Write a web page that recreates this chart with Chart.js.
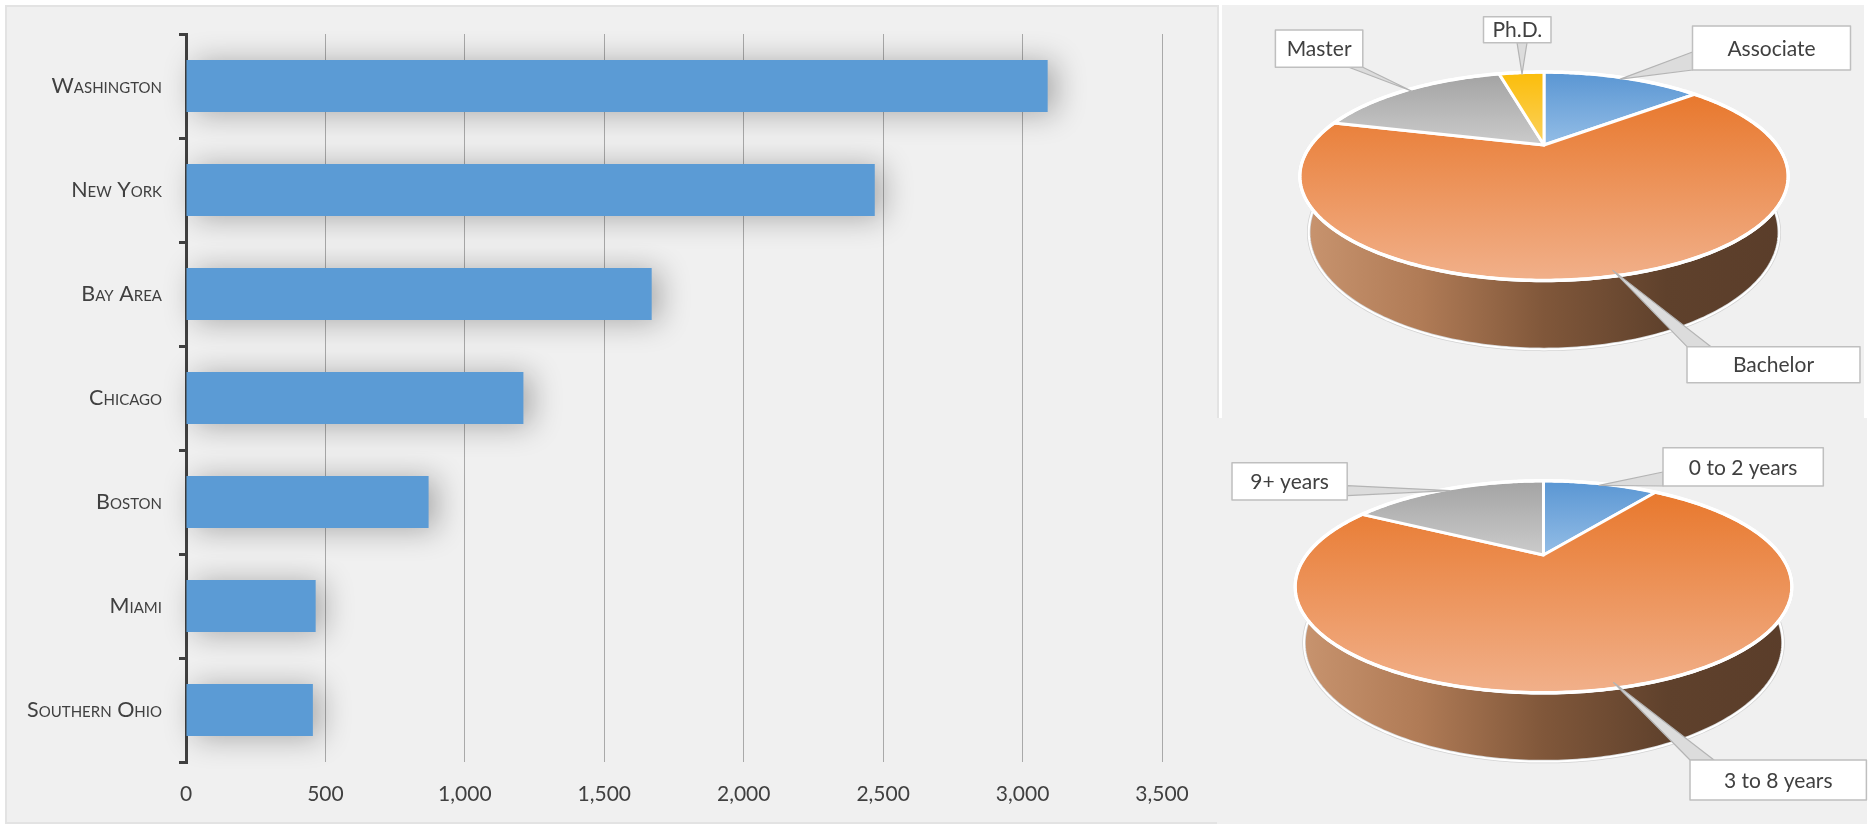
<!DOCTYPE html>
<html>
<head>
<meta charset="utf-8">
<title>Locations, education and experience</title>
<script src="https://cdn.jsdelivr.net/npm/chart.js@4.4.1/dist/chart.umd.min.js"></script>
<style>
  html, body { margin: 0; padding: 0; background: #ffffff; width: 1872px; height: 824px; overflow: hidden; }
  .panel { position: absolute; background: #f0f0f0; box-sizing: border-box; }
  canvas { position: absolute; }
</style>
</head>
<body>
<div class="panel" style="left:5px;top:5px;width:1214px;height:819px;border:2px solid #e3e3e3;"></div>
<div class="panel" style="left:1222px;top:5px;width:642px;height:413px;"></div>
<div class="panel" style="left:1217px;top:418px;width:650px;height:406px;"></div>
<canvas id="bars" style="left:0;top:0;width:1219px;height:824px" width="1219" height="824"></canvas>
<canvas id="edu" style="left:1219px;top:0;width:653px;height:418px" width="653" height="418"></canvas>
<canvas id="exp" style="left:1219px;top:418px;width:653px;height:406px" width="653" height="406"></canvas>
<script>
// ---- data ----
const cities = ['Washington', 'New York', 'Bay Area', 'Chicago', 'Boston', 'Miami', 'Southern Ohio'];
const cityCounts = [3090, 2470, 1670, 1210, 870, 465, 455];
const countTicks = [0, 500, 1000, 1500, 2000, 2500, 3000, 3500];

const degrees = ['Associate', 'Bachelor', 'Master', 'Ph.D.'];
const degreeShares = [14, 65, 17, 4];

const experience = ['0 to 2 years', '3 to 8 years', '9+ years'];
const experienceShares = [10, 73, 17];

const TEXT = '#404040';
const FONT = 'Lato';

// ---- soft drop shadow under the bars ----
const barShadow = {
  id: 'barShadow',
  beforeDatasetDraw(chart) {
    const c = chart.ctx;
    c.save();
    c.shadowColor = 'rgba(0,0,0,0.30)';
    c.shadowBlur = 30;
    c.shadowOffsetX = 8;
    c.shadowOffsetY = 2;
  },
  afterDatasetDraw(chart) { chart.ctx.restore(); }
};

new Chart(document.getElementById('bars'), {
  type: 'bar',
  data: {
    labels: cities,
    datasets: [{
      data: cityCounts,
      backgroundColor: '#5b9bd5',
      borderWidth: 0,
      barPercentage: 0.5,
      categoryPercentage: 1,
      clip: false
    }]
  },
  options: {
    indexAxis: 'y',
    responsive: false,
    animation: false,
    locale: 'en-US',
    layout: { padding: { top: 34, right: 57, left: 0, bottom: 0 } },
    plugins: { legend: { display: false }, tooltip: { enabled: false } },
    scales: {
      x: {
        min: countTicks[0],
        max: countTicks[countTicks.length - 1],
        ticks: { stepSize: countTicks[1] - countTicks[0], color: TEXT, font: { family: FONT, size: 21 }, padding: 20 },
        grid: { color: '#a9a9a9', lineWidth: 1, drawTicks: false },
        border: { display: false },
        afterFit(s) { s.height = 62; }
      },
      y: {
        z: 1,
        ticks: { color: TEXT, font: { family: FONT, size: 21.5, weight: 'small-caps' }, padding: 17 },
        grid: { drawOnChartArea: false, drawTicks: true, tickLength: 7, color: '#404040', lineWidth: 3, offset: true },
        border: { display: true, color: '#404040', width: 3 },
        afterFit(s) { s.width = 186; }
      }
    }
  },
  plugins: [barShadow]
});

// ---- perspective 3-D pie drawn from the arcs Chart.js lays out ----
function projector(g) {
  const c = Math.sqrt(1 - g.tilt * g.tilt);
  const r = g.persp / c;
  // th: clockwise from 12 o'clock, rr: fraction of radius, z: height in radii (0 = top face)
  return (th, rr, z) => {
    const X = rr * Math.sin(th), Y = rr * Math.cos(th);
    const q = 1 + r * c * Y - r * g.tilt * z;
    return [g.cx + g.radius * X / q, g.cy - g.radius * (Y * g.tilt + z * c) / q];
  };
}

function arcPts(P, a, b, z, out) {
  const n = Math.max(2, Math.ceil(Math.abs(b - a) / 0.015));
  for (let i = 0; i <= n; i++) out.push(P(a + (b - a) * i / n, 1, z));
  return out;
}

function tracePoly(ctx, pts) {
  ctx.beginPath();
  pts.forEach((p, i) => i ? ctx.lineTo(p[0], p[1]) : ctx.moveTo(p[0], p[1]));
  ctx.closePath();
}

function pointerBase(b, tip) {
  const clamp = (v, lo, hi) => Math.min(Math.max(v, lo), hi);
  const w = b.stem;
  if (b.side === 'top' || b.side === 'bottom') {
    const y = b.side === 'top' ? b.y : b.y + b.h;
    const m = clamp(tip[0], b.x + w / 2, b.x + b.w - w / 2);
    return [[m - w / 2, y], [m + w / 2, y]];
  }
  const x = b.side === 'left' ? b.x : b.x + b.w;
  const m = clamp(tip[1], b.y + w / 2, b.y + b.h - w / 2);
  return [[x, m - w / 2], [x, m + w / 2]];
}

function make3dPie(look) {
  return {
    id: 'pie3d',
    beforeDatasetsDraw(chart) {
      const ctx = chart.ctx;
      const g = look.geom;
      const P = projector(g);
      const arcs = chart.getDatasetMeta(0).data;
      const spans = arcs.map(a => [a.startAngle + Math.PI / 2, a.endAngle + Math.PI / 2]);
      const xl = g.cx - g.radius * 1.05, xr = g.cx + g.radius * 1.05;

      ctx.save();
      ctx.lineJoin = 'round';

      // front side wall
      spans.forEach(([a0, a1], i) => {
        const a = Math.max(a0, Math.PI / 2), b = Math.min(a1, Math.PI * 1.5);
        if (b <= a) return;
        const pts = [];
        arcPts(P, a, b, 0, pts);
        arcPts(P, b, a, -g.depth, pts);
        const grad = ctx.createLinearGradient(xl, 0, xr, 0);
        const stops = look.wall[i];
        stops.forEach((c, j) => grad.addColorStop(j / (stops.length - 1), c));
        tracePoly(ctx, pts);
        ctx.fillStyle = grad;
        ctx.fill();
        ctx.lineWidth = 3.5; ctx.strokeStyle = '#d2d2d2'; ctx.stroke();
        ctx.lineWidth = 2; ctx.strokeStyle = '#ffffff'; ctx.stroke();
      });

      // top faces
      spans.forEach(([a0, a1], i) => {
        const pts = [P(0, 0, 0)];
        arcPts(P, a0, a1, 0, pts);
        const ys = pts.map(p => p[1]);
        const grad = ctx.createLinearGradient(0, Math.min(...ys), 0, Math.max(...ys));
        grad.addColorStop(0, look.top[i][0]);
        grad.addColorStop(1, look.top[i][1]);
        tracePoly(ctx, pts);
        ctx.fillStyle = grad;
        ctx.fill();
        ctx.lineWidth = 3; ctx.strokeStyle = '#ffffff'; ctx.stroke();
      });
      const rim = arcPts(P, 0, Math.PI * 2, 0, []);
      tracePoly(ctx, rim);
      ctx.lineWidth = 3.5; ctx.strokeStyle = '#ffffff'; ctx.stroke();

      // data callouts
      ctx.font = '21px ' + FONT;
      ctx.textAlign = 'center';
      ctx.textBaseline = 'middle';
      const labels = chart.data.labels;
      look.callouts.forEach((b, i) => {
        const [a0, a1] = spans[i];
        const tip = P((a0 + a1) / 2, 0.97, 0);
        const [p1, p2] = pointerBase(b, tip);
        ctx.beginPath();
        ctx.moveTo(tip[0], tip[1]);
        ctx.lineTo(p1[0], p1[1]);
        ctx.lineTo(p2[0], p2[1]);
        ctx.closePath();
        ctx.fillStyle = '#dcdcdc';
        ctx.fill();
        ctx.lineWidth = 1.2; ctx.strokeStyle = '#b4b4b4'; ctx.stroke();

        ctx.fillStyle = '#ffffff';
        ctx.fillRect(b.x, b.y, b.w, b.h);
        ctx.lineWidth = 1.5; ctx.strokeStyle = '#bfbfbf';
        ctx.strokeRect(b.x, b.y, b.w, b.h);
        ctx.fillStyle = TEXT;
        ctx.fillText(labels[i], b.x + b.w / 2, b.y + b.h / 2 + 1);
      });
      ctx.restore();
      return false;
    }
  };
}

const ORANGE_WALL = ['#c99570', '#b07b56', '#80573a', '#5f412c', '#5a3d2a'];
const BLUE_WALL = ['#7fa6cc', '#5f86ad', '#3f5f80', '#2f4a66', '#2c4560'];
const GRAY_WALL = ['#b5b5b5', '#9a9a9a', '#727272', '#585858', '#545454'];
const GOLD_WALL = ['#d9b24a', '#bf9630', '#8f6f1e', '#6e5416', '#685014'];

function pieChart(id, labels, values, look) {
  return new Chart(document.getElementById(id), {
    type: 'pie',
    data: { labels, datasets: [{ data: values, backgroundColor: look.top.map(t => t[0]) }] },
    options: {
      responsive: false,
      animation: false,
      plugins: { legend: { display: false }, tooltip: { enabled: false } }
    },
    plugins: [make3dPie(look)]
  });
}

pieChart('edu', degrees, degreeShares, {
  geom: { cx: 325, cy: 145, radius: 233, tilt: 0.407, persp: 0.30, depth: 0.26 },
  top: [['#5a96d3', '#93bde6'], ['#e8782d', '#f1b08a'], ['#a3a3a3', '#cbcbcb'], ['#fbbd0a', '#fbd25e']],
  wall: [BLUE_WALL, ORANGE_WALL, GRAY_WALL, GOLD_WALL],
  callouts: [
    { x: 473.5, y: 26, w: 158, h: 44, side: 'left', stem: 18 },
    { x: 468, y: 346.7, w: 173, h: 36, side: 'top', stem: 24 },
    { x: 56.4, y: 30, w: 87.4, h: 37.3, side: 'bottom', stem: 14 },
    { x: 264.5, y: 16.7, w: 67.5, h: 26, side: 'bottom', stem: 10 }
  ]
});

pieChart('exp', experience, experienceShares, {
  geom: { cx: 324.5, cy: 137, radius: 237, tilt: 0.407, persp: 0.30, depth: 0.255 },
  top: [['#5a96d3', '#93bde6'], ['#e8782d', '#f1b08a'], ['#a3a3a3', '#cbcbcb']],
  wall: [BLUE_WALL, ORANGE_WALL, GRAY_WALL],
  callouts: [
    { x: 444, y: 29.7, w: 160.3, h: 38.3, side: 'left', stem: 14 },
    { x: 471, y: 342, w: 176.4, h: 40, side: 'top', stem: 24 },
    { x: 13, y: 44.7, w: 115.2, h: 37.3, side: 'right', stem: 10 }
  ]
});
</script>
</body>
</html>
